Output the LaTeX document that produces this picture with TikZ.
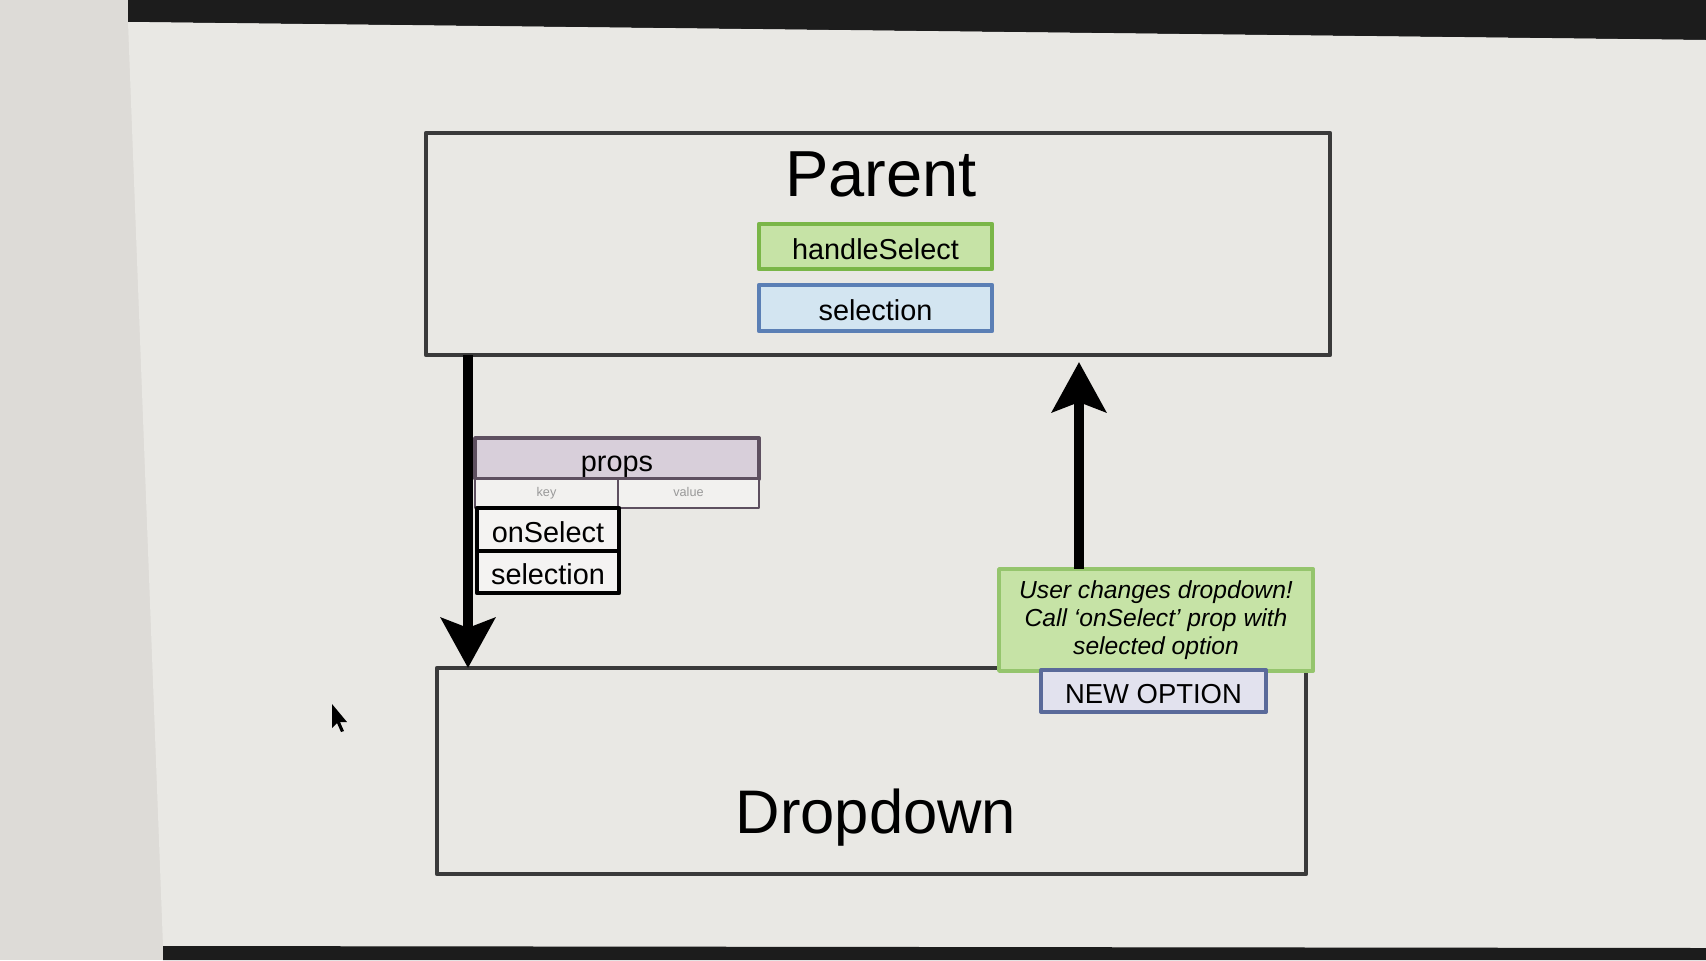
\documentclass[tikz,border=0pt]{standalone}
\usepackage{fontspec}
\setmainfont{Liberation Sans}
\usetikzlibrary{arrows.meta}
\definecolor{slide}{HTML}{E9E8E4}
\definecolor{paper}{HTML}{DDDBD7}
\definecolor{frame}{HTML}{1C1C1C}
\definecolor{boxline}{HTML}{3A3A3A}
\definecolor{gfill}{HTML}{C6E3A6}
\definecolor{gline}{HTML}{7AB648}
\definecolor{bfill}{HTML}{D3E5F1}
\definecolor{bline}{HTML}{5B7FB5}
\definecolor{pfill}{HTML}{D8CFDA}
\definecolor{pline}{HTML}{5E5060}
\definecolor{ofill}{HTML}{E2E2EE}
\definecolor{oline}{HTML}{5A6A9A}
\tikzset{
  base/.style={inner sep=0pt,outer sep=0pt,font=\fontsize{8.2}{9.8}\selectfont},
  mid/.style={base,text height=0.86em,text depth=0.14em},
  bigbox/.style={base,draw=boxline,line width=1.1pt},
  varbox/.style={mid,line width=1.2pt,minimum width=2.33cm,minimum height=0.45cm},
  cell/.style={base,draw=pline,line width=0.7pt,fill=slide!60!white,minimum height=0.29cm,
    text height=2.6pt,text depth=0.8pt,text=black!40,font=\fontsize{3.6}{4}\selectfont},
  keycell/.style={mid,draw=black,line width=1.3pt,fill=slide!50!white,minimum width=1.42cm},
  flow/.style={line width=2.6pt,-{Stealth[width=0.54cm,length=0.5cm,inset=0.1cm]}}
}
\begin{document}
\begin{tikzpicture}[x=0.01cm,y=-0.01cm,line join=round]
\useasboundingbox (0,0) rectangle (1706,960);
% photo of the screen
\fill[paper] (0,0) rectangle (1706,960);
\fill[frame] (128,0)--(1706,0)--(1706,40)--(128,22)--cycle;
\fill[slide] (128,22)--(1706,40)--(1706,948)--(163,946)--cycle;
\fill[frame] (163,946)--(1706,948)--(1706,960)--(163,960)--cycle;
% boxes
\node[bigbox,minimum width=9.04cm,minimum height=2.22cm] (parent) at (878,244) {};
\node[base,font=\fontsize{18.5}{20}\selectfont] (parentlbl) at (881,174) {Parent};
\node[varbox,draw=gline,fill=gfill] (handle) at (875.5,246.5) {handleSelect};
\node[varbox,draw=bline,fill=bfill,minimum height=0.46cm] (selp) at (875.5,308) {selection};
\node[bigbox,minimum width=8.69cm,minimum height=2.06cm] (dropdown) at (871.5,771) {};
\node[base,font=\fontsize{17.5}{19}\selectfont] (droplbl) at (876,818) {Dropdown};
% props table
\node[mid,draw=pline,line width=1pt,fill=pfill,minimum width=2.84cm,minimum height=0.41cm] (props) at (617,458.5) {props};
\node[cell,minimum width=1.43cm] (key) at (546.5,493.5) {key};
\node[cell,minimum width=1.41cm] (value) at (688.5,493.5) {value};
\node[keycell,minimum height=0.43cm] (onsel) at (548,529.5) {onSelect};
\node[keycell,minimum height=0.42cm] (selk) at (548,572) {selection};
% note
\node[base,draw=gline!80!white,line width=1pt,fill=gfill,minimum width=3.14cm,minimum height=1.02cm,
  align=center,font=\fontsize{7}{7.9}\selectfont\itshape] (note) at (1156,620)
  {User changes dropdown!\\Call `onSelect' prop with\\selected option};
\node[mid,draw=oline,line width=1.1pt,fill=ofill,minimum width=2.25cm,minimum height=0.42cm,
  font=\fontsize{7.8}{9}\selectfont] (newopt) at (1153.5,691) {NEW OPTION};
% arrows
\coordinate (dx) at (468,0);
\coordinate (ux) at (1079,0);
\draw[flow] (parent.south -| dx) -- (dropdown.north -| dx);
\draw[flow,shorten >=0.07cm] (note.north -| ux) -- (parent.south -| ux);
% mouse pointer
\fill[black] (332,704)--(332,728)--(337,723)--(341,732)--(344,731)--(340,722)--(347,722)--cycle;
\end{tikzpicture}
\end{document}
